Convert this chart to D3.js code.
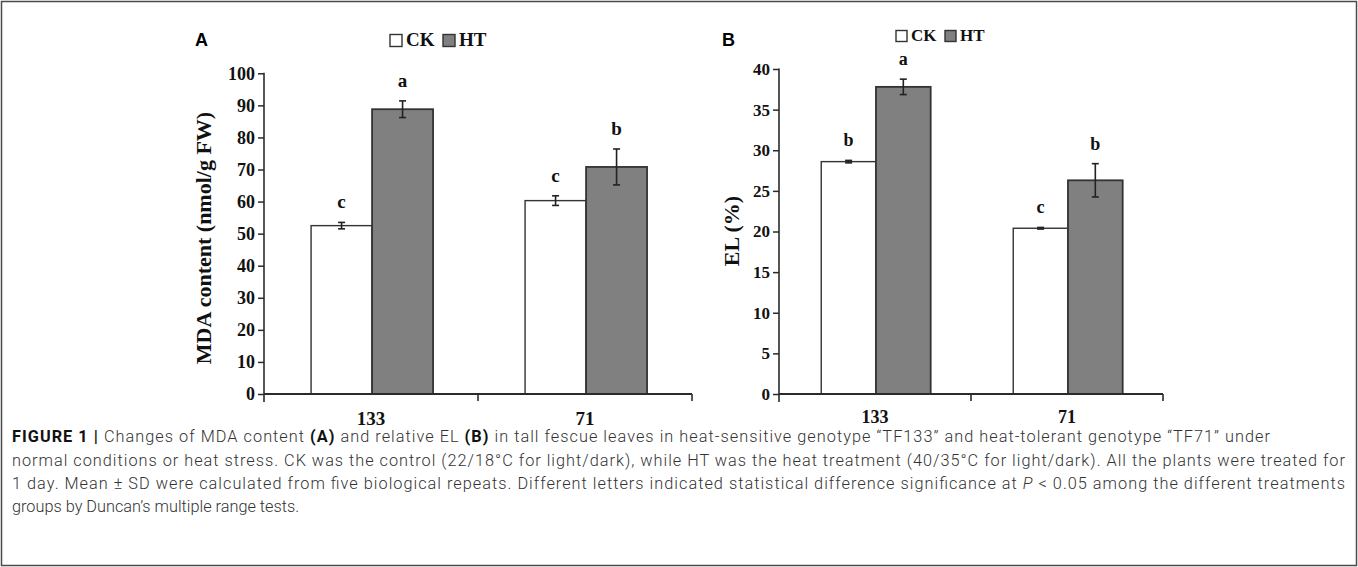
<!DOCTYPE html>
<html><head><meta charset="utf-8">
<script src="https://cdn.jsdelivr.net/npm/d3@7"></script>
<style>
html,body{margin:0;padding:0;background:#fff;}
svg{display:block;}
</style></head>
<body>
<svg id="chart" width="1358" height="567"></svg>
<script>
// ---- data ----
const categories = ["133", "71"];
const seriesNames = ["CK", "HT"];
const seriesColors = ["#ffffff", "#808080"];

const mdaCK = [52.5, 60.3];
const mdaHT = [88.8, 70.8];
const mdaCKsd = [1.0, 1.5];
const mdaHTsd = [2.6, 5.6];
const mdaCKletters = ["c", "c"];
const mdaHTletters = ["a", "b"];
const mdaTicks = [0, 10, 20, 30, 40, 50, 60, 70, 80, 90, 100];

const elCK = [28.6, 20.4];
const elHT = [37.8, 26.3];
const elCKsd = [0.15, 0.1];
const elHTsd = [0.95, 2.05];
const elCKletters = ["b", "c"];
const elHTletters = ["a", "b"];
const elTicks = [0, 5, 10, 15, 20, 25, 30, 35, 40];

const captionLines = [
  [{t:"FIGURE 1 | ", b:true}, {t:"Changes of MDA content "}, {t:"(A)", b:true}, {t:" and relative EL "}, {t:"(B)", b:true}, {t:" in tall fescue leaves in heat-sensitive genotype \u201CTF133\u201D and heat-tolerant genotype \u201CTF71\u201D under"}],
  [{t:"normal conditions or heat stress. CK was the control (22/18\u00B0C for light/dark), while HT was the heat treatment (40/35\u00B0C for light/dark). All the plants were treated for"}],
  [{t:"1 day. Mean \u00B1 SD were calculated from five biological repeats. Different letters indicated statistical difference significance at "}, {t:"P", i:true}, {t:" < 0.05 among the different treatments"}],
  [{t:"groups by Duncan\u2019s multiple range tests."}]
];

// ---- drawing ----
const svg = d3.select("#chart");
const serif = "'Liberation Serif','Times New Roman',serif";
const sans = "'Liberation Sans',Arial,Helvetica,sans-serif";
const axisColor = "#2b2b2b";

svg.append("rect").attr("x", 1.5).attr("y", 1.5).attr("width", 1355).attr("height", 564)
  .attr("fill", "none").attr("stroke", "#4a4a4a").attr("stroke-width", 1.5);

function panel(cfg) {
  const g = svg.append("g");
  const x = d3.scaleBand().domain(categories).range([cfg.x0, cfg.x1]).padding(0);
  const bw = x.bandwidth();
  const xs = d3.scaleBand().domain(seriesNames).range([0.22 * bw, 0.79 * bw]).padding(0);
  const y = d3.scaleLinear().domain([0, cfg.max]).range([cfg.y0, cfg.yTop]);

  // y axis
  const ya = g.append("g").attr("transform", `translate(${cfg.x0},0)`)
    .call(d3.axisLeft(y).tickValues(cfg.ticks).tickSize(6).tickPadding(3).tickFormat(d3.format("d")));
  ya.select(".domain").remove();
  ya.selectAll(".tick line").attr("stroke", axisColor).attr("stroke-width", 1.5);
  ya.selectAll(".tick text").attr("font-family", serif).attr("font-weight", "bold")
    .attr("font-size", cfg.tickFont).attr("fill", "#111");
  g.append("line").attr("x1", cfg.x0).attr("x2", cfg.x0).attr("y1", y(cfg.max) - 0.5).attr("y2", cfg.y0 + 8)
    .attr("stroke", axisColor).attr("stroke-width", 1.6);

  // bars
  const data = [];
  categories.forEach((c, i) => {
    seriesNames.forEach((s, j) => {
      const vals = j === 0 ? cfg.ck : cfg.ht;
      const sds = j === 0 ? cfg.cksd : cfg.htsd;
      const lets = j === 0 ? cfg.ckl : cfg.htl;
      data.push({c, s, j, v: vals[i], sd: sds[i], l: lets[i]});
    });
  });
  g.selectAll("rect.bar").data(data).join("rect").attr("class", "bar")
    .attr("x", d => x(d.c) + xs(d.s))
    .attr("width", xs.bandwidth())
    .attr("y", d => y(d.v))
    .attr("height", d => y(0) - y(d.v))
    .attr("fill", d => seriesColors[d.j])
    .attr("stroke", "#333").attr("stroke-width", d => d.j === 0 ? 1.4 : 1.8);

  // error bars
  const eb = g.selectAll("g.err").data(data).join("g").attr("class", "err");
  const cx = d => x(d.c) + xs(d.s) + xs.bandwidth() / 2;
  eb.append("line").attr("x1", cx).attr("x2", cx).attr("y1", d => y(d.v + d.sd)).attr("y2", d => y(d.v - d.sd))
    .attr("stroke", "#222").attr("stroke-width", 1.6);
  eb.append("line").attr("x1", d => cx(d) - 3.5).attr("x2", d => cx(d) + 3.5)
    .attr("y1", d => y(d.v + d.sd)).attr("y2", d => y(d.v + d.sd)).attr("stroke", "#222").attr("stroke-width", 1.6);
  eb.append("line").attr("x1", d => cx(d) - 3.5).attr("x2", d => cx(d) + 3.5)
    .attr("y1", d => y(d.v - d.sd)).attr("y2", d => y(d.v - d.sd)).attr("stroke", "#222").attr("stroke-width", 1.6);

  // letters
  g.selectAll("text.let").data(data).join("text").attr("class", "let")
    .attr("x", cx).attr("y", d => y(d.v + d.sd) - 14)
    .attr("text-anchor", "middle").attr("font-family", serif).attr("font-weight", "bold")
    .attr("font-size", cfg.letFont).attr("fill", "#111").text(d => d.l);

  // x axis
  g.append("line").attr("x1", cfg.x0).attr("x2", cfg.x1).attr("y1", cfg.y0).attr("y2", cfg.y0)
    .attr("stroke", axisColor).attr("stroke-width", 1.8);
  const bounds = categories.map(c => x(c) + bw);
  g.selectAll("line.xt").data(bounds).join("line").attr("class", "xt")
    .attr("x1", d => d).attr("x2", d => d).attr("y1", cfg.y0).attr("y2", cfg.y0 + 7)
    .attr("stroke", axisColor).attr("stroke-width", 1.6);
  const xa = g.append("g").attr("transform", `translate(0,${cfg.y0})`)
    .call(d3.axisBottom(x).tickSize(0).tickPadding(cfg.xPad));
  xa.select(".domain").remove();
  xa.selectAll(".tick text").attr("font-family", serif).attr("font-weight", "bold")
    .attr("font-size", cfg.xFont).attr("fill", "#111");

  // y label
  g.append("text").attr("transform", `translate(${cfg.labX},${cfg.labY}) rotate(-90)`)
    .attr("text-anchor", "middle").attr("font-family", serif).attr("font-weight", "bold")
    .attr("font-size", cfg.labFont).attr("fill", "#111").text(cfg.label);

  // panel letter
  g.append("text").attr("x", cfg.pX).attr("y", cfg.pY).attr("font-family", sans).attr("font-weight", "bold")
    .attr("font-size", 18).attr("fill", "#000").text(cfg.panel);

  // legend
  const lg = g.append("g").attr("transform", `translate(${cfg.legX},${cfg.legY})`);
  seriesNames.forEach((s, j) => {
    const ox = j * cfg.legStep;
    lg.append("rect").attr("x", ox).attr("y", -cfg.box + 0.5).attr("width", cfg.box).attr("height", cfg.box)
      .attr("fill", seriesColors[j]).attr("stroke", "#333").attr("stroke-width", 1.4);
    lg.append("text").attr("x", ox + cfg.box + 4).attr("y", 0).attr("font-family", serif).attr("font-weight", "bold")
      .attr("font-size", cfg.legFont).attr("fill", "#111").text(s);
  });
}

panel({x0: 264, x1: 692, y0: 394, yTop: 73.3, max: 100, ticks: mdaTicks,
  ck: mdaCK, ht: mdaHT, cksd: mdaCKsd, htsd: mdaHTsd, ckl: mdaCKletters, htl: mdaHTletters,
  tickFont: 18, letFont: 19, xFont: 19, xPad: 18, labFont: 22, labX: 211, labY: 238,
  label: "MDA content (nmol/g  FW)", panel: "A", pX: 195, pY: 46,
  legX: 390, legY: 46, box: 12, legStep: 53, legFont: 19});

panel({x0: 779, x1: 1163, y0: 394, yTop: 69, max: 40, ticks: elTicks,
  ck: elCK, ht: elHT, cksd: elCKsd, htsd: elHTsd, ckl: elCKletters, htl: elHTletters,
  tickFont: 17, letFont: 18, xFont: 18, xPad: 16, labFont: 22, labX: 739, labY: 231,
  label: "EL (%)", panel: "B", pX: 722, pY: 46,
  legX: 896, legY: 41, box: 11, legStep: 49, legFont: 17});

// caption
const cap = svg.append("g");
const capY = [442, 466, 489, 512];
const capLen = [1258, 1333, 1333, null];
captionLines.forEach((parts, i) => {
  const t = cap.append("text").attr("x", 12).attr("y", capY[i]).attr("font-family", "Roboto," + sans)
    .attr("font-weight", 300).attr("font-size", 16.3).attr("fill", "#333");
  parts.forEach(p => {
    const ts = t.append("tspan").text(p.t);
    if (p.b) ts.attr("font-weight", "bold").attr("fill", "#111");
    if (p.i) ts.attr("font-style", "italic");
  });
  if (capLen[i]) t.attr("textLength", capLen[i]).attr("lengthAdjust", "spacing");
});
</script>
</body></html>
